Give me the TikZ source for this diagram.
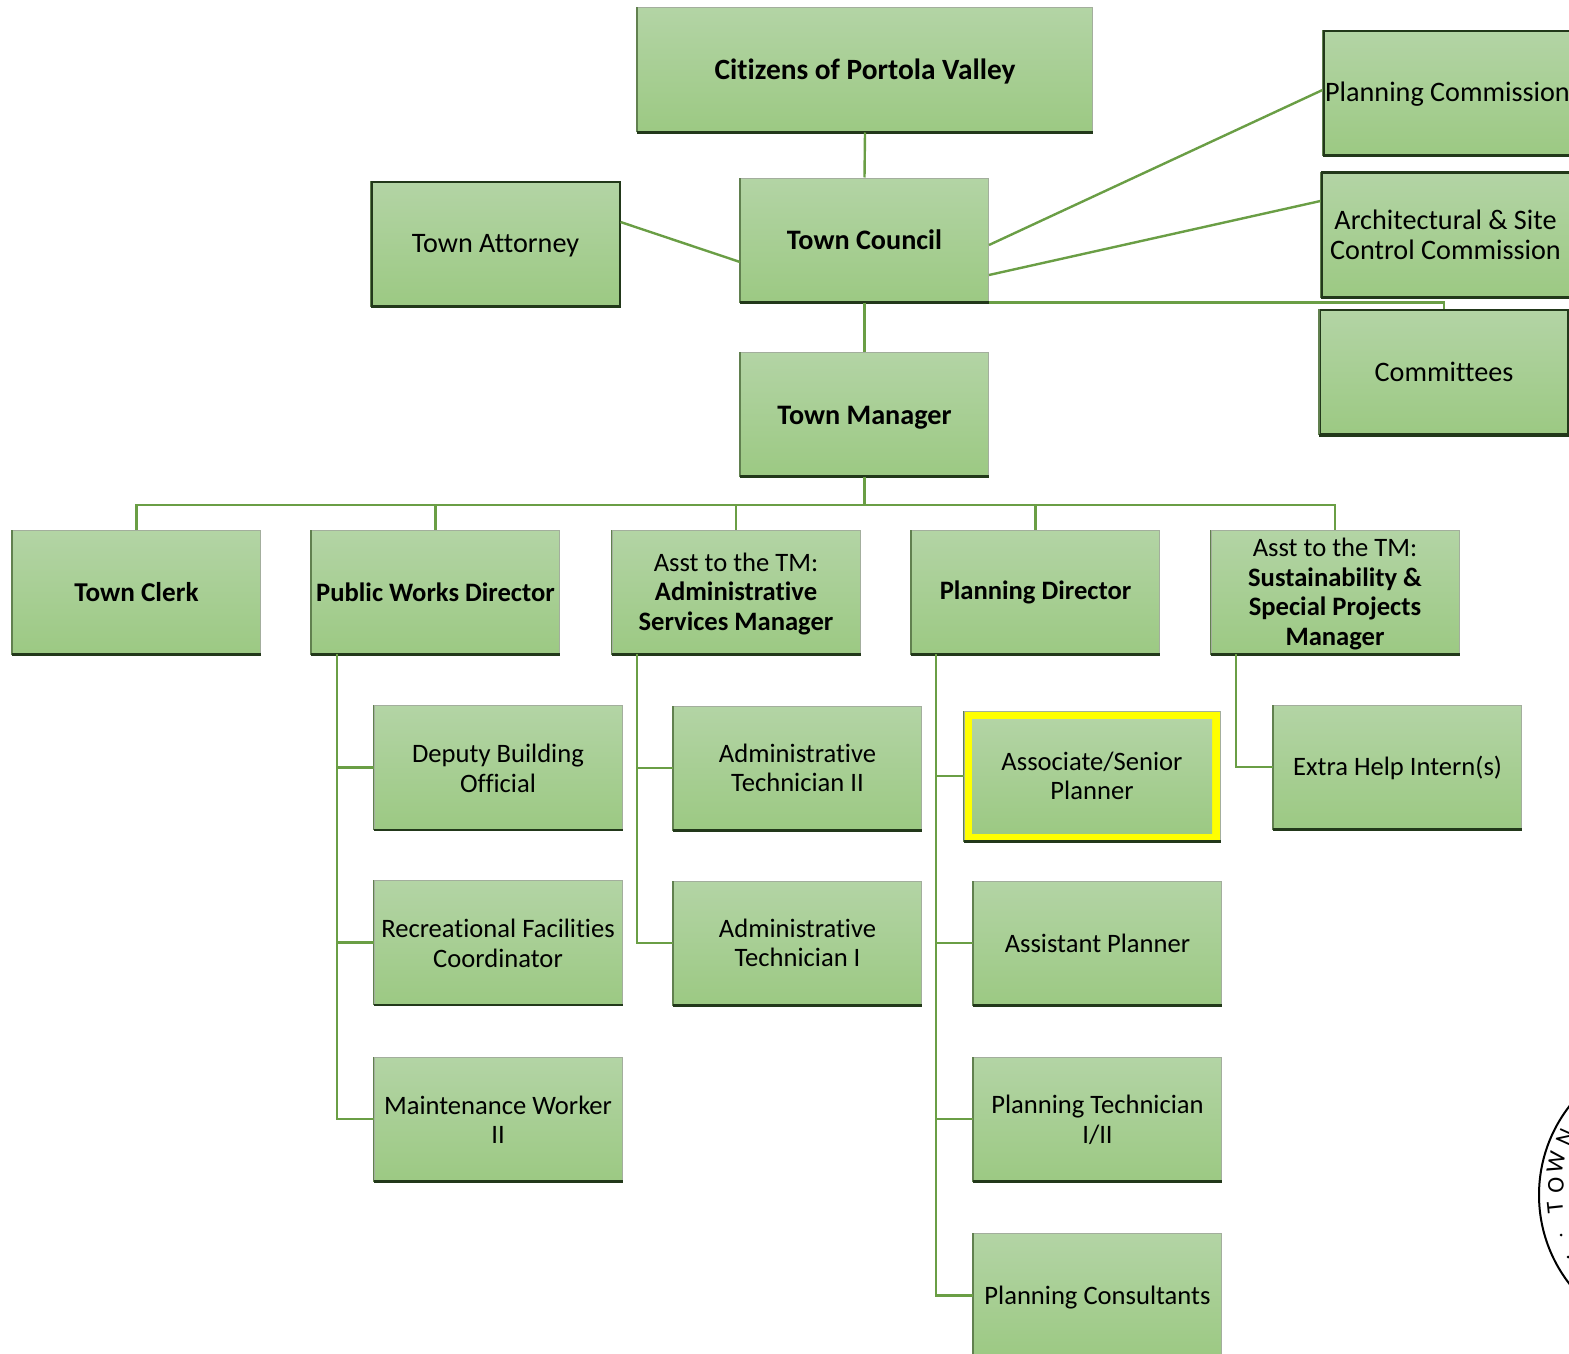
\documentclass[tikz,border=0pt]{standalone}
\usepackage{fontspec}
\setmainfont{Carlito}[Ligatures=NoCommon]
\definecolor{boxtop}{HTML}{B3D4A5}
\definecolor{boxbottom}{HTML}{9CC983}
\definecolor{linkgreen}{HTML}{6A9E45}
\definecolor{edgegray}{HTML}{A3AE9D}
\definecolor{edgeside}{HTML}{61804F}
\definecolor{edgedark}{HTML}{22381A}
\newcommand{\topstrut}[1]{\rule{0pt}{#1}}
\tikzset{
  orgbox/.style={rectangle, draw=edgegray, line width=0.5pt, top color=boxtop, bottom color=boxbottom,
    minimum width=124pt, minimum height=62pt, inner sep=0pt, align=center,
    font=\fontsize{13.3}{14.75}\selectfont,
    append after command={(\tikzlastnode.south west) edge[draw=edgeside, line width=0.7pt] (\tikzlastnode.north west)
      (\tikzlastnode.south west) edge[draw=edgedark, line width=1.2pt] (\tikzlastnode.south east)}},
  darkbox/.style={orgbox, draw=edgedark, line width=1pt, font=\fontsize{14.1}{15}\selectfont,
    append after command={(\tikzlastnode.south west) edge[draw=edgedark, line width=1.5pt] (\tikzlastnode.south east)}},
  link/.style={draw=linkgreen, line width=1.2pt}
}
\begin{document}
\begin{tikzpicture}[x=0.5pt, y=-0.5pt]
  \useasboundingbox (0,0) rectangle (1569,1354);
  % top of the chart
  \node[orgbox, minimum width=227.5pt, font=\bfseries\fontsize{14.7}{15}\selectfont] (citizens) at (865,70) {\topstrut{12pt}Citizens of Portola Valley};
  \node[orgbox, font=\bfseries\fontsize{14.1}{15}\selectfont] (council) at (864.5,240) {Town Council};
  \node[orgbox, font=\bfseries\fontsize{14.1}{15}\selectfont] (manager) at (864.5,414) {\topstrut{12.6pt}Town Manager};
  \node[darkbox] (attorney) at (495.5,243.5) {\topstrut{11.5pt}Town Attorney};
  \node[darkbox] (planningcomm) at (1447.5,93) {\topstrut{10.5pt}Planning Commission};
  \node[darkbox] (ascc) at (1445.5,234.5) {Architectural \& Site\\Control Commission};
  \node[darkbox] (committees) at (1444,372) {Committees};
  % department heads
  \node[orgbox, font=\bfseries\fontsize{13.6}{15}\selectfont] (clerk) at (136.5,592) {Town Clerk};
  \node[orgbox] (works) at (435.5,592) {\textbf{Public Works Director}};
  \node[orgbox] (admin) at (736,592) {\topstrut{11.1pt}Asst to the TM:\\\textbf{Administrative}\\\textbf{Services Manager}};
  \node[orgbox] (planning) at (1035.5,592) {\topstrut{10.1pt}\textbf{Planning Director}};
  \node[orgbox] (sustain) at (1335,592) {\topstrut{11.1pt}Asst to the TM:\\\textbf{Sustainability \&}\\\textbf{Special Projects}\\\textbf{Manager}};
  % staff
  \node[orgbox] (deputy) at (498,767.5) {\topstrut{10.1pt}Deputy Building\\Official};
  \node[orgbox] (recreation) at (498,942.5) {\topstrut{10.1pt}Recreational Facilities\\Coordinator};
  \node[orgbox] (maintenance) at (498,1119) {\topstrut{10.1pt}Maintenance Worker\\II};
  \node[orgbox] (techtwo) at (797.5,768) {Administrative\\Technician II};
  \node[orgbox] (techone) at (797.5,943) {Administrative\\Technician I};
  \node[orgbox, minimum width=128pt, minimum height=65pt, top color=yellow, bottom color=yellow] (assocframe) at (1092,776) {};
  \node[rectangle, top color=boxtop, bottom color=boxbottom, minimum width=120pt, minimum height=57pt, inner sep=0pt, align=center, font=\fontsize{13.3}{14.75}\selectfont] (associate) at (1092,776) {Associate/Senior\\Planner};
  \node[orgbox] (assistant) at (1097.5,943) {Assistant Planner};
  \node[orgbox] (plantech) at (1097.5,1119) {\topstrut{10.1pt}Planning Technician\\I/II};
  \node[orgbox] (consultants) at (1097.5,1295.5) {\topstrut{11.1pt}Planning Consultants};
  \node[orgbox] (intern) at (1397.5,767) {\topstrut{11.1pt}Extra Help Intern(s)};
  % connectors
  \draw[link] (citizens.south) -- (council.north);
  \draw[link] (council.south) -- (manager.north);
  \draw[link] ([yshift=-11pt]council.west) -- ([yshift=10.75pt]attorney.east);
  \draw[link] ([yshift=-2.5pt]council.east) -- ([yshift=1.5pt]planningcomm.west);
  \draw[link] ([yshift=-17.5pt]council.east) -- ([yshift=16.75pt]ascc.west);
  \draw[link] (council.south east) -| (committees.north);
  \coordinate (bus) at (864.5,505);
  \draw[link] (manager.south) -- (bus);
  \foreach \head in {clerk,works,admin,planning,sustain}
    \draw[link] (bus) -| (\head.north);
  \coordinate (worksdrop) at (337,654);
  \coordinate (admindrop) at (637,654);
  \coordinate (planningdrop) at (936,654);
  \coordinate (sustaindrop) at (1236,654);
  \foreach \staff in {deputy,recreation,maintenance}
    \draw[link] (worksdrop) |- (\staff.west);
  \foreach \staff in {techtwo,techone}
    \draw[link] (admindrop) |- (\staff.west);
  \foreach \staff in {assocframe,assistant,plantech,consultants}
    \draw[link] (planningdrop) |- (\staff.west);
  \draw[link] (sustaindrop) |- (intern.west);
  % seal at the right edge
  \draw[line width=1pt, line cap=round] (1684,1195) circle[radius=145];
  \foreach \letter/\px/\py/\turn in {T/1555/1207/96,O/1556/1185/88,W/1556/1162/78,N/1566/1137/66}
    \node[rotate=\turn, font=\fontsize{12}{12}\selectfont] (seal\letter) at (\px,\py) {\letter};
  \fill (1561,1235) circle[radius=1.5];
  \fill (1568,1257) circle[radius=1.5];
\end{tikzpicture}
\end{document}
